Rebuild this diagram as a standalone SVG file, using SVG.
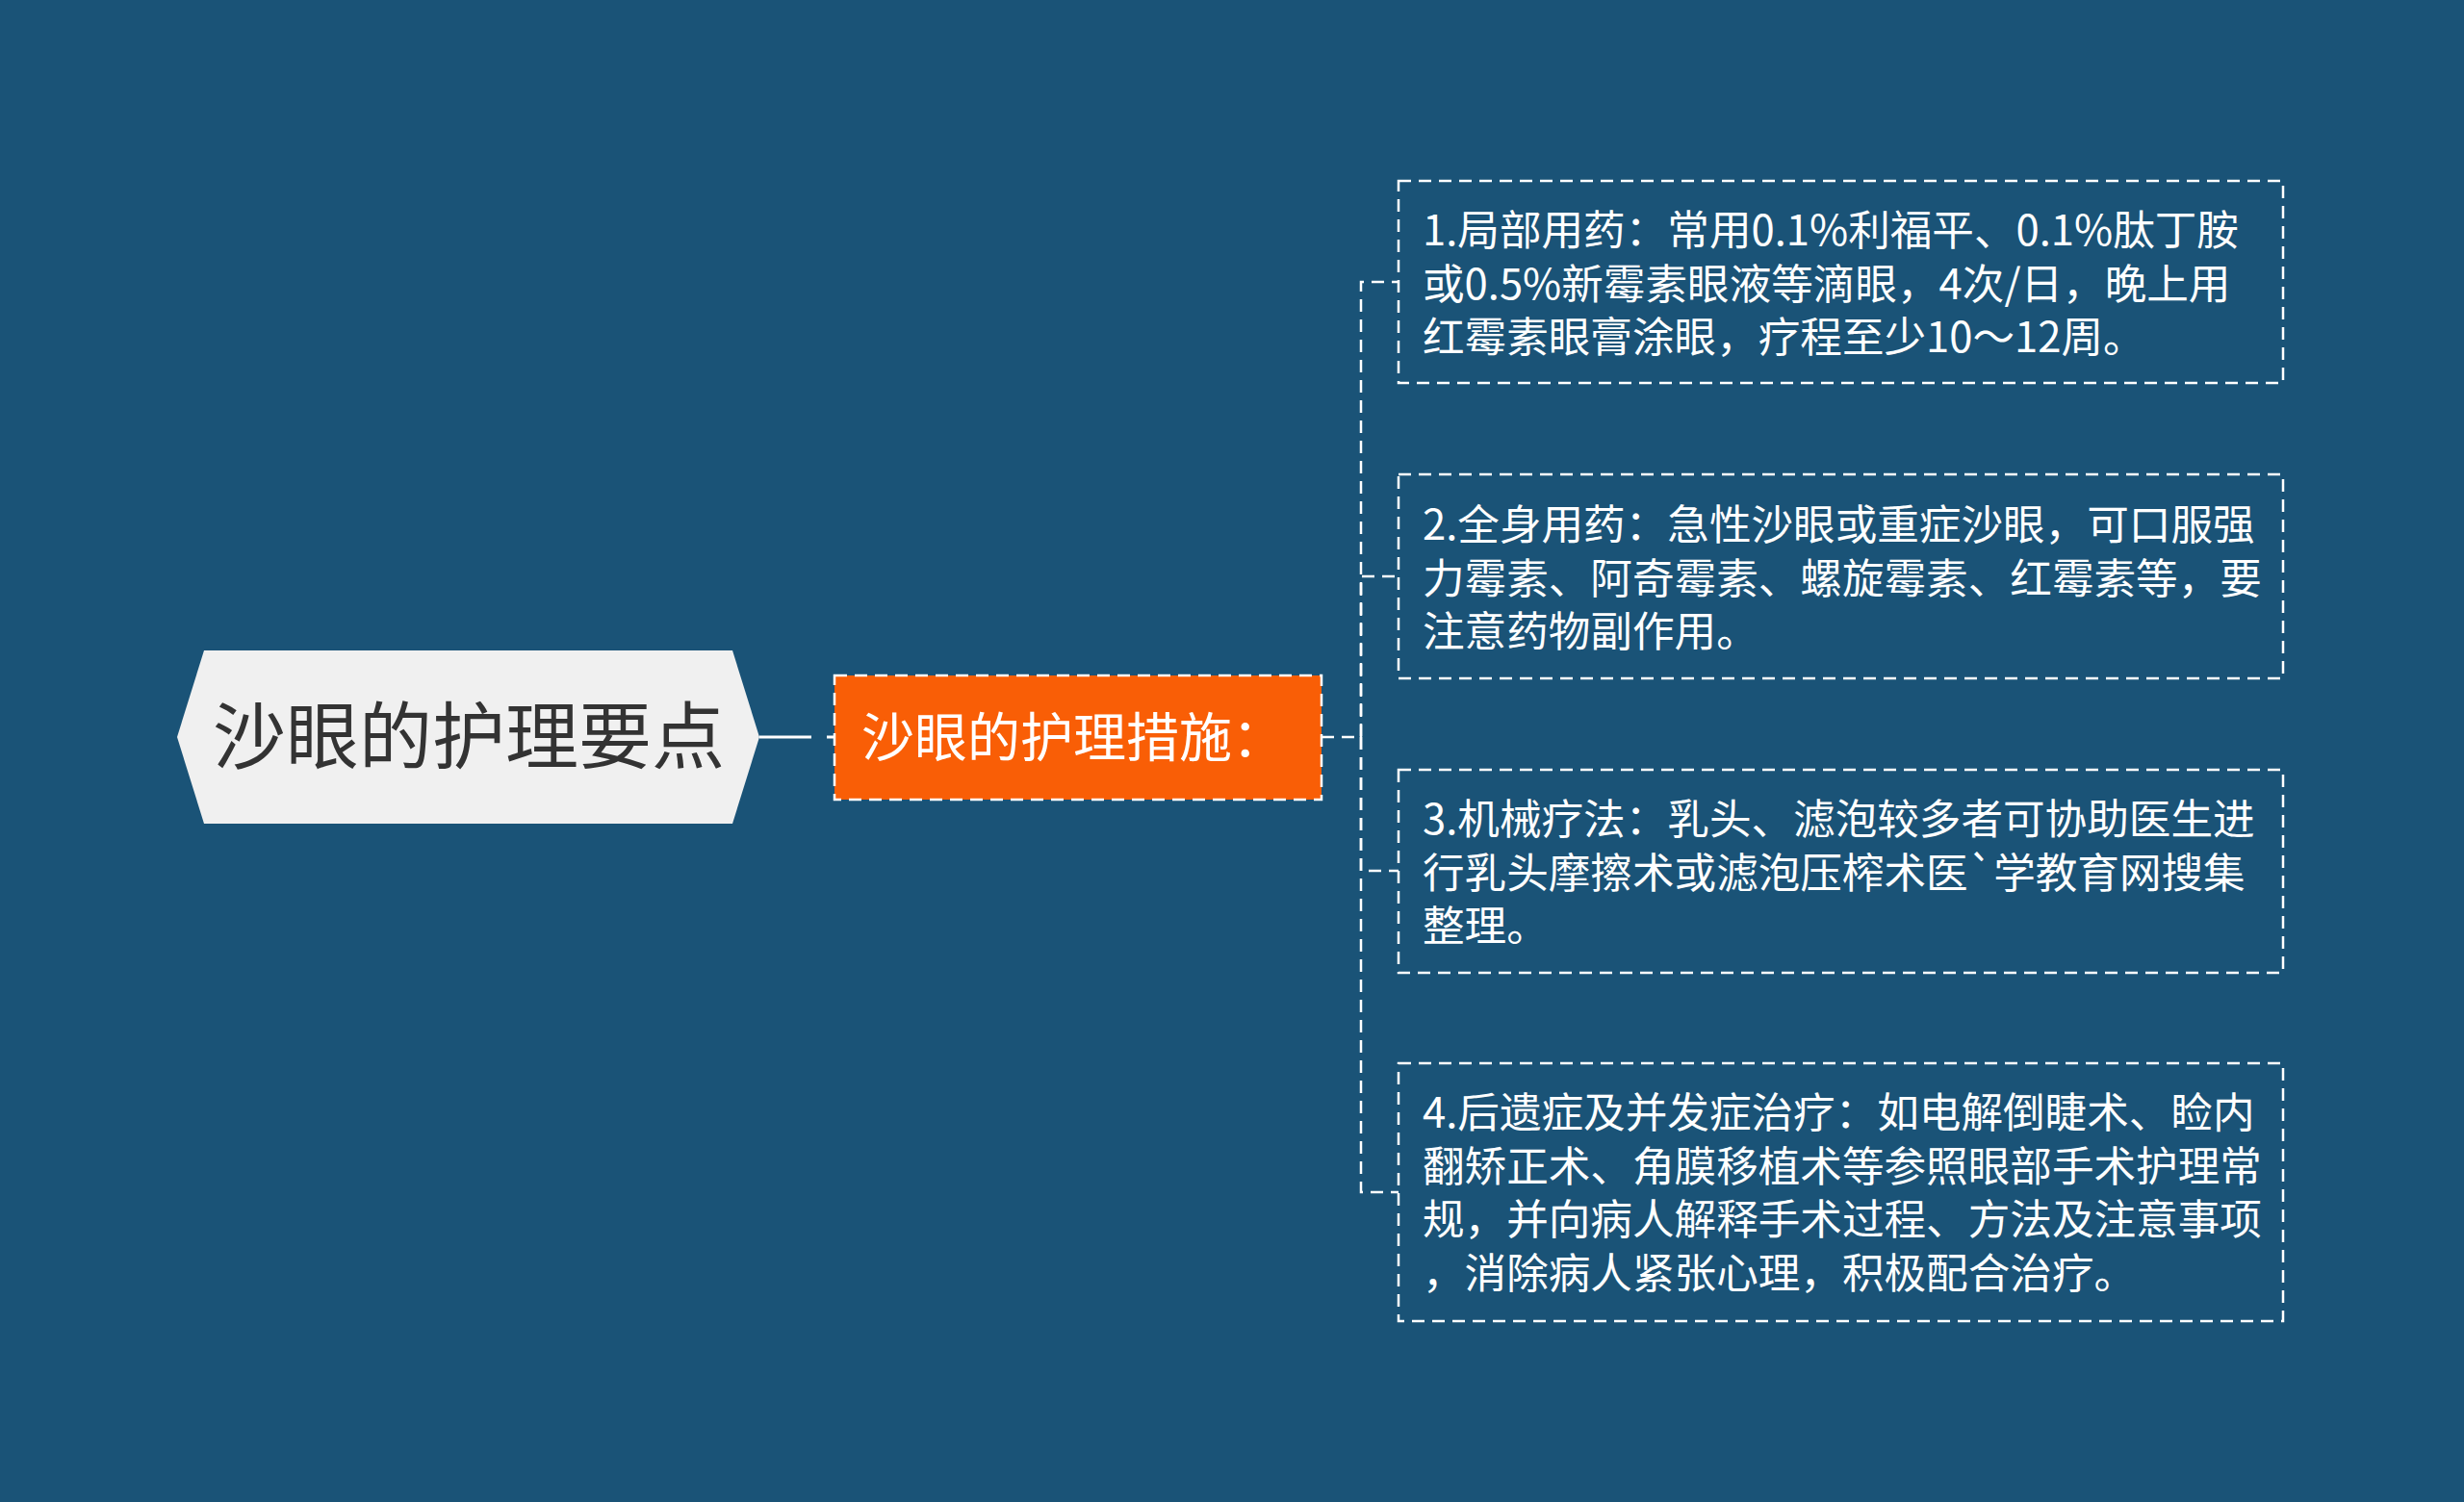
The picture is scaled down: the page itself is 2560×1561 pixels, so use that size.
<svg xmlns="http://www.w3.org/2000/svg" width="2560" height="1561" viewBox="0 0 2560 1561">
<style>
.bg{fill:#1a5377}
.conn{fill:none;stroke:#ffffff;stroke-width:2.5;stroke-dasharray:13 8}
.child{fill:none;stroke:#ffffff;stroke-width:2.5;stroke-dasharray:13 8}
.ct{font-family:"Noto Sans CJK SC","Noto Sans",sans-serif;font-size:43.6px;fill:#ffffff}
.root{fill:#f0f0f0}
.rt{font-family:"Noto Sans CJK SC","Noto Sans",sans-serif;font-size:76px;fill:#333333}
.mid{fill:#f95e06;stroke:#ffffff;stroke-width:2.5;stroke-dasharray:13 8}
.mt{font-family:"Noto Sans CJK SC","Noto Sans",sans-serif;font-size:55px;fill:#ffffff}
</style>
<rect class="bg" x="0" y="0" width="2560" height="1561"/>
<g id="connectors">
<path d="M789 766 H867" fill="none" stroke="#ffffff" stroke-width="3" stroke-dasharray="54 16 8 100"/>
<path class="conn" d="M1373 766 H1414 V293 H1453"/>
<path class="conn" d="M1414 766 V599 H1453"/>
<path class="conn" d="M1414 766 V905 H1453"/>
<path class="conn" d="M1414 766 V1239 H1453"/>
</g>
<g id="root">
<polygon class="root" points="184,766 212,676 761,676 789,766 761,856 212,856"/>
<text class="rt" x="487" y="793" text-anchor="middle">沙眼的护理要点</text>
</g>
<g id="mid">
<rect class="mid" x="867" y="702" width="506" height="129"/>
<text class="mt" x="895" y="786">沙眼的护理措施：</text>
</g>
<g id="c1">
<rect class="child" x="1453" y="188" width="919" height="210"/>
<text class="ct"><tspan x="1478" y="255">1.局部用药：常用0.1%利福平、0.1%肽丁胺</tspan><tspan x="1478" y="311">或0.5%新霉素眼液等滴眼，4次/日，晚上用</tspan><tspan x="1478" y="366">红霉素眼膏涂眼，疗程至少10～12周。</tspan></text>
</g>
<g id="c2">
<rect class="child" x="1453" y="493" width="919" height="212"/>
<text class="ct"><tspan x="1478" y="561">2.全身用药：急性沙眼或重症沙眼，可口服强</tspan><tspan x="1478" y="617">力霉素、阿奇霉素、螺旋霉素、红霉素等，要</tspan><tspan x="1478" y="672">注意药物副作用。</tspan></text>
</g>
<g id="c3">
<rect class="child" x="1453" y="800" width="919" height="211"/>
<text class="ct"><tspan x="1478" y="867">3.机械疗法：乳头、滤泡较多者可协助医生进</tspan><tspan x="1478" y="923">行乳头摩擦术或滤泡压榨术医`学教育网搜集</tspan><tspan x="1478" y="978">整理。</tspan></text>
</g>
<g id="c4">
<rect class="child" x="1453" y="1105" width="919" height="268"/>
<text class="ct"><tspan x="1478" y="1172">4.后遗症及并发症治疗：如电解倒睫术、睑内</tspan><tspan x="1478" y="1228">翻矫正术、角膜移植术等参照眼部手术护理常</tspan><tspan x="1478" y="1283">规，并向病人解释手术过程、方法及注意事项</tspan><tspan x="1478" y="1339">，消除病人紧张心理，积极配合治疗。</tspan></text>
</g>
</svg>
